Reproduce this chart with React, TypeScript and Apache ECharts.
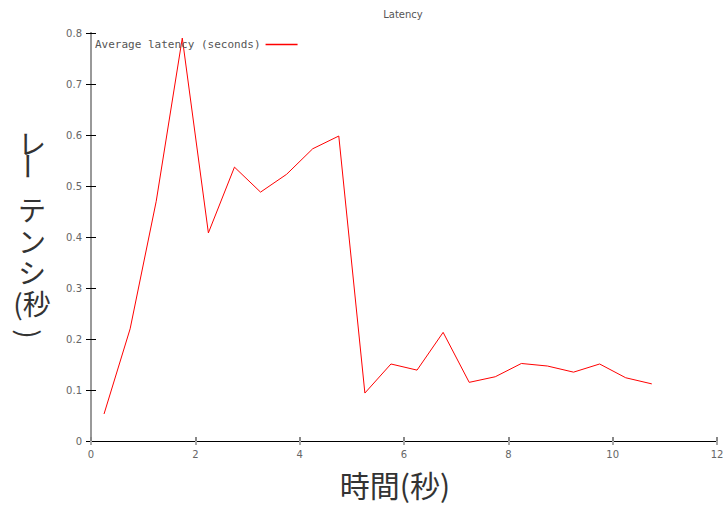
import React, { useEffect, useRef } from "react";
import * as echarts from "echarts";

const xValues = [0.25, 0.75, 1.25, 1.75, 2.25, 2.75, 3.25, 3.75, 4.25, 4.75, 5.25, 5.75, 6.25, 6.75, 7.25, 7.75, 8.25, 8.75, 9.25, 9.75, 10.25, 10.75];
const latency = [0.053, 0.22, 0.47, 0.79, 0.408, 0.537, 0.488, 0.523, 0.573, 0.598, 0.094, 0.151, 0.139, 0.213, 0.115, 0.126, 0.152, 0.147, 0.135, 0.151, 0.124, 0.112];
const seriesName = "Average latency (seconds)";
const chartTitle = "Latency";
const xTitle = "時間(秒)";
const yTitleChars = ["テ", "ン", "シ", "(秒"];

export default function App() {
  const ref = useRef<HTMLDivElement>(null);
  useEffect(() => {
    if (!ref.current) return;
    const chart = echarts.init(ref.current, null, { renderer: "svg" });
    const data = xValues.map((x, i) => [x, latency[i]]);
    const labelFont = { fontFamily: "DejaVu Sans", fontSize: 10, color: "#666" };
    const cjk = "28px 'Noto Sans CJK JP'";
    const yCharPos = [209, 241, 272, 303];
    chart.setOption({
      animation: false,
      backgroundColor: "#fff",
      legend: {
        left: 90,
        top: 34,
        align: "right",
        icon: "rect",
        itemWidth: 32,
        itemHeight: 1.5,
        itemGap: 5,
        textStyle: { fontFamily: "DejaVu Sans Mono", fontSize: 11, color: "#555" },
        data: [seriesName],
      },
      grid: { left: 91, right: 6, top: 33, bottom: 65, containLabel: false, outerBoundsMode: "none" },
      xAxis: [
        {
          type: "value",
          min: 0,
          max: 12,
          interval: 2,
          position: "bottom",
          axisLine: { show: true, lineStyle: { color: "#000", width: 1 } },
          axisTick: { show: true, inside: true, length: 4, lineStyle: { color: "#888", width: 2 } },
          axisLabel: { ...labelFont, margin: 8 },
          splitLine: { show: false },
        },
        {
          type: "value",
          min: 0,
          max: 12,
          interval: 2,
          position: "top",
          axisLine: { show: true, lineStyle: { color: "#000", width: 1 } },
          axisTick: { show: true, inside: true, length: 4, lineStyle: { color: "#aaa", width: 2 } },
          axisLabel: { show: false },
          splitLine: { show: false },
        },
      ],
      yAxis: [
        {
          type: "value",
          min: 0,
          max: 0.8,
          interval: 0.1,
          position: "left",
          axisLine: { show: true, lineStyle: { color: "#777", width: 2 } },
          axisTick: { show: true, inside: true, length: 5, lineStyle: { color: "#000", width: 1 } },
          axisLabel: { ...labelFont, margin: 9, formatter: (v: number) => (v === 0 ? "0" : String(Math.round(v * 10) / 10)) },
          splitLine: { show: false },
        },
        {
          type: "value",
          min: 0,
          max: 0.8,
          interval: 0.1,
          position: "right",
          axisLine: { show: true, lineStyle: { color: "#999", width: 2 } },
          axisTick: { show: true, inside: true, length: 5, lineStyle: { color: "#000", width: 1 } },
          axisLabel: { show: false },
          splitLine: { show: false },
        },
      ],
      series: [
        {
          name: seriesName,
          type: "line",
          xAxisIndex: 0,
          yAxisIndex: 0,
          data,
          showSymbol: false,
          symbol: "none",
          lineStyle: { color: "#ff0000", width: 1 },
          itemStyle: { color: "#ff0000" },
        },
      ],
      graphic: [
        {
          type: "text",
          x: 403,
          y: 14,
          style: { text: chartTitle, font: "10px 'DejaVu Sans'", fill: "#555", align: "center", verticalAlign: "middle" },
        },
        {
          type: "text",
          x: 395,
          y: 484,
          style: { text: xTitle, font: "30px 'Noto Sans CJK JP'", lineHeight: 30, fill: "#333", align: "center", verticalAlign: "middle" },
        },
        {
          type: "text",
          x: 32,
          y: 143,
          style: { text: "レ", font: cjk, lineHeight: 28, fill: "#333", align: "center", verticalAlign: "middle" },
        },
        {
          type: "text",
          x: 27,
          y: 166,
          rotation: Math.PI / 2,
          style: { text: "ー", font: cjk, lineHeight: 28, fill: "#333", align: "center", verticalAlign: "middle" },
        },
        ...yTitleChars.map((c, i) => ({
          type: "text",
          x: 32,
          y: yCharPos[i],
          style: { text: c, font: cjk, lineHeight: 28, fill: "#333", align: "center", verticalAlign: "middle" },
        })),
        {
          type: "text",
          x: 30,
          y: 334,
          rotation: -Math.PI / 2,
          style: { text: ")", font: cjk, lineHeight: 28, fill: "#333", align: "center", verticalAlign: "middle" },
        },
      ],
    });
    return () => chart.dispose();
  }, []);
  return <div ref={ref} style={{ width: 723, height: 506, position: "absolute", left: 0, top: 0 }} />;
}
